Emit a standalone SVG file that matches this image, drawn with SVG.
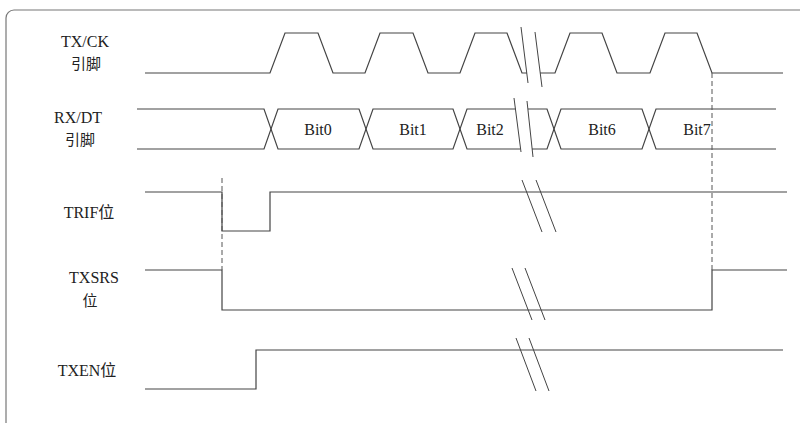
<svg xmlns="http://www.w3.org/2000/svg" width="800" height="423" viewBox="0 0 800 423">
<style>
.sig{fill:none;stroke:#444;stroke-width:1.2}
.brk{fill:none;stroke:#444;stroke-width:1}
.dash{fill:none;stroke:#555;stroke-width:1;stroke-dasharray:5,3}
</style>
<rect width="800" height="423" fill="#fff"/>
<path d="M6,423 V18 A8,8 0 0 1 14,10 H800" fill="none" stroke="#777" stroke-width="1.2"/>
<g id="labels" font-family="Liberation Serif, Noto Sans CJK SC, serif" font-size="16" fill="#222" text-anchor="middle">
<text x="85" y="47">TX/CK</text>
<text x="86" y="69" font-size="15">引脚</text>
<text x="78" y="123">RX/DT</text>
<text x="80" y="145" font-size="15">引脚</text>
<text x="89" y="218">TRIF位</text>
<text x="94" y="283">TXSRS</text>
<text x="90" y="306" font-size="15">位</text>
<text x="87" y="376">TXEN位</text>
</g>
<g id="txck">
<path class="sig" d="M145,73 H270 L285,33 H318 L333,73 H365 L380,33 H413 L428,73 H460 L475,33 H507 L522,73 H527"/>
<path class="sig" d="M540,73 H555 L570,33 H602 L617,73 H650 L665,33 H697 L712,73 H783"/>
</g>
<g id="rxdt">
<path class="sig" d="M137,109 H264 L278,149 H359 L373,109 H453 L467,149 H520"/>
<path class="sig" d="M137,149 H264 L278,109 H359 L373,149 H453 L467,109 H516"/>
<path class="sig" d="M528,109 H547 L561,149 H642 L656,109 H776"/>
<path class="sig" d="M532,149 H547 L561,109 H642 L656,149 H776"/>
<g font-family="Liberation Serif, serif" font-size="16" fill="#222" text-anchor="middle">
<text x="318" y="135">Bit0</text>
<text x="413" y="135">Bit1</text>
<text x="490" y="135">Bit2</text>
<text x="602" y="135">Bit6</text>
<text x="697" y="135">Bit7</text>
</g>
</g>
<g id="trif">
<path class="sig" d="M145,192 H222 V231 H270 V192 H787"/>
</g>
<g id="txsrs">
<path class="sig" d="M145,270 H222 V310 H712 V270 H787"/>
</g>
<g id="txen">
<path class="sig" d="M145,389 H256 V350 H783"/>
</g>
<g id="connectors">
<line class="dash" x1="222" y1="178" x2="222" y2="270"/>
<line class="dash" x1="712" y1="73" x2="712" y2="270"/>
<line class="brk" x1="521" y1="27" x2="528" y2="83"/>
<line class="brk" x1="535" y1="32" x2="542" y2="87"/>
<line class="brk" x1="514" y1="98" x2="521" y2="152"/>
<line class="brk" x1="527" y1="101" x2="533" y2="157"/>
<line class="brk" x1="522" y1="180" x2="542" y2="232"/>
<line class="brk" x1="536" y1="180" x2="556" y2="232"/>
<line class="brk" x1="512" y1="268" x2="532" y2="320"/>
<line class="brk" x1="525" y1="268" x2="545" y2="320"/>
<line class="brk" x1="516" y1="338" x2="536" y2="391"/>
<line class="brk" x1="529" y1="338" x2="549" y2="391"/>
</g>
</svg>
